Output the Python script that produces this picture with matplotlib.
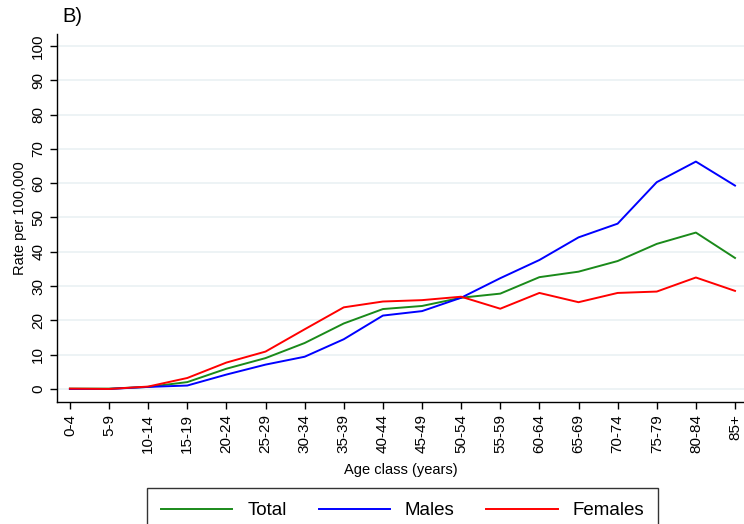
import matplotlib
matplotlib.use("Agg")
import matplotlib.pyplot as plt

plt.rcParams['font.family'] = ['Liberation Sans', 'DejaVu Sans']

age_classes = ["0-4", "5-9", "10-14", "15-19", "20-24", "25-29", "30-34", "35-39",
               "40-44", "45-49", "50-54", "55-59", "60-64", "65-69", "70-74",
               "75-79", "80-84", "85+"]
total = [0.1, 0.1, 0.6, 2.0, 5.9, 9.0, 13.4, 19.1, 23.3, 24.2, 26.6, 27.8, 32.6,
         34.2, 37.3, 42.3, 45.6, 38.2]
males = [0.0, 0.0, 0.6, 1.0, 4.2, 7.1, 9.4, 14.5, 21.4, 22.7, 26.6, 32.3, 37.6,
         44.2, 48.2, 60.3, 66.3, 59.3]
females = [0.1, 0.0, 0.7, 3.2, 7.7, 10.9, 17.4, 23.8, 25.5, 25.9, 26.9, 23.4,
           28.0, 25.3, 28.0, 28.4, 32.5, 28.6]
yticks = [0, 10, 20, 30, 40, 50, 60, 70, 80, 90, 100]

fig = plt.figure(figsize=(7.44, 5.24), dpi=100)
ax = fig.add_axes([57/744, 1-402/524, 1-57/744, (402-34)/524])

x = list(range(len(age_classes)))
ax.plot(x, total, color="#1a8a1a", lw=1.4, label="Total")
ax.plot(x, males, color="#0000ff", lw=1.4, label="Males")
ax.plot(x, females, color="#ff0000", lw=1.4, label="Females")

ax.set_xlim(-0.33, 17.23)
ax.set_ylim(-3.8, 103.5)
ax.set_yticks(yticks)
ax.set_yticklabels([str(v) for v in yticks], rotation=90, va="center", fontsize=11)
ax.set_xticks(x)
ax.set_xticklabels(age_classes, rotation=90, fontsize=11)
ax.tick_params(axis="both", direction="out", length=5, width=1, color="black")
ax.grid(axis="y", color="#eaf1f3", lw=1.2)
ax.set_axisbelow(True)
for s in ["top", "right"]:
    ax.spines[s].set_visible(False)
ax.spines["left"].set_linewidth(1)
ax.spines["bottom"].set_linewidth(1)

ax.set_ylabel("Rate per 100,000", fontsize=10.5, labelpad=3)
ax.set_xlabel("Age class (years)", fontsize=10.5, labelpad=7)

fig.text(62/744, 1-17/524, "B)", fontsize=14.5, va="center", ha="left")

leg = fig.legend(loc="upper left", bbox_to_anchor=(147/744, 1-488/524), ncol=3,
                 fontsize=13.5, frameon=True, fancybox=False, edgecolor="black",
                 handlelength=3.8, columnspacing=1.7, borderpad=0.75,
                 handletextpad=0.8, borderaxespad=0)
leg.get_frame().set_linewidth(1)

fig.savefig("out.png", dpi=100, facecolor="white")
